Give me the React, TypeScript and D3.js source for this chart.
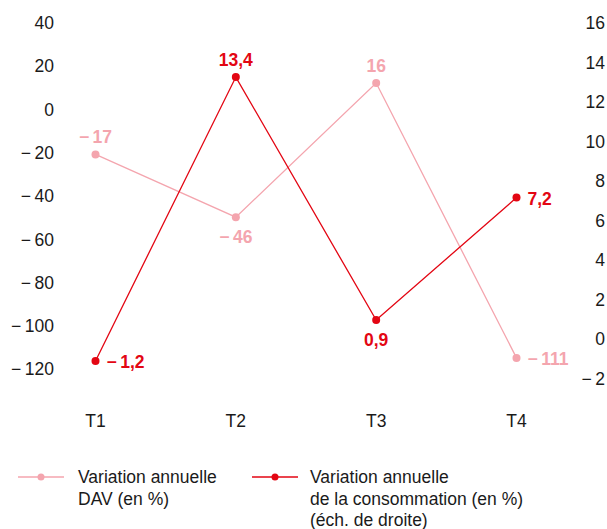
import React from "react";
import * as d3 from "d3";

const quarters = ["T1", "T2", "T3", "T4"];
const davValues = [-17, -46, 16, -111];
const davLabels = ["−\u200917", "−\u200946", "16", "−\u2009111"];
const consoValues = [-1.2, 13.4, 0.9, 7.2];
const consoLabels = ["−\u20091,2", "13,4", "0,9", "7,2"];
const leftTicks = [40, 20, 0, -20, -40, -60, -80, -100, -120];
const rightTicks = [16, 14, 12, 10, 8, 6, 4, 2, 0, -2];
const legendDav = ["Variation annuelle", "DAV (en %)"];
const legendConso = ["Variation annuelle", "de la consommation (en %)", "(éch. de droite)"];

const PINK = "#f4a5ae";
const RED = "#e30613";
const FONT = "'Liberation Sans', Arial, Helvetica, sans-serif";

// label placement: position relative to point
const davPos = ["above", "below", "above", "right"];
const consoPos = ["right", "above", "below", "right"];

const fmtTick = (v: number) => (v < 0 ? "−\u2009" + Math.abs(v) : String(v));

export default function App() {
  const W = 607;
  const H = 529;
  const FS = 17.5;
  const x = d3.scalePoint<string>().domain(quarters).range([95.5, 516.5]);
  const yL = d3.scaleLinear().domain([-120, 40]).range([377.4, 31]);
  const yR = d3.scaleLinear().domain([-2, 16]).range([376.5, 26.5]);
  const yRt = d3.scaleLinear().domain([-2, 16]).range([379, 23]);

  const line = d3.line<[number, number]>().x((d) => d[0]).y((d) => d[1]);
  const davPts: [number, number][] = davValues.map((v, i) => [x(quarters[i])!, yL(v)]);
  const consoPts: [number, number][] = consoValues.map((v, i) => [x(quarters[i])!, yR(v)]);

  const labelProps = (pos: string, px: number, py: number) => {
    if (pos === "above") return { x: px, y: py - 17, textAnchor: "middle" as const };
    if (pos === "below") return { x: px, y: py + 20, textAnchor: "middle" as const };
    return { x: px + 11, y: py + 1, textAnchor: "start" as const };
  };

  return (
    <svg
      width={W}
      height={H}
      style={{ position: "absolute", left: 0, top: 0, background: "#fff" }}
      fontFamily={FONT}
    >
      {/* left axis */}
      {leftTicks.map((t) => (
        <text key={"l" + t} x={54} y={yL(t) - 8} textAnchor="end" dominantBaseline="central" fontSize={FS} fill="#1a1a1a">
          {fmtTick(t)}
        </text>
      ))}
      {/* right axis */}
      {rightTicks.map((t) => (
        <text key={"r" + t} x={605} y={yRt(t)} textAnchor="end" dominantBaseline="central" fontSize={FS} fill="#1a1a1a">
          {fmtTick(t)}
        </text>
      ))}
      {/* x labels */}
      {quarters.map((q) => (
        <text key={q} x={x(q)!} y={421} textAnchor="middle" dominantBaseline="central" fontSize={FS} fill="#1a1a1a">
          {q}
        </text>
      ))}

      {/* DAV series */}
      <path d={line(davPts) || ""} fill="none" stroke={PINK} strokeWidth={1.3} />
      {davPts.map((p, i) => (
        <circle key={"dp" + i} cx={p[0]} cy={p[1]} r={4} fill={PINK} />
      ))}
      {davPts.map((p, i) => {
        const lp = labelProps(davPos[i], p[0], p[1]);
        return (
          <text key={"dl" + i} x={lp.x} y={lp.y} textAnchor={lp.textAnchor} dominantBaseline="central" fontSize={FS} fontWeight="bold" fill={PINK}>
            {davLabels[i]}
          </text>
        );
      })}

      {/* Consommation series */}
      <path d={line(consoPts) || ""} fill="none" stroke={RED} strokeWidth={1.3} />
      {consoPts.map((p, i) => (
        <circle key={"cp" + i} cx={p[0]} cy={p[1]} r={4} fill={RED} />
      ))}
      {consoPts.map((p, i) => {
        const lp = labelProps(consoPos[i], p[0], p[1]);
        return (
          <text key={"cl" + i} x={lp.x} y={lp.y} textAnchor={lp.textAnchor} dominantBaseline="central" fontSize={FS} fontWeight="bold" fill={RED}>
            {consoLabels[i]}
          </text>
        );
      })}

      {/* legend */}
      <g>
        <line x1={18} x2={64} y1={477} y2={477} stroke={PINK} strokeWidth={1.3} />
        <circle cx={41} cy={477} r={3.5} fill={PINK} />
        {legendDav.map((s, i) => (
          <text key={"ld" + i} x={78} y={477 + i * 22} dominantBaseline="central" fontSize={FS} fill="#1a1a1a">
            {s}
          </text>
        ))}
        <line x1={252} x2={298} y1={477} y2={477} stroke={RED} strokeWidth={1.3} />
        <circle cx={275} cy={477} r={3.5} fill={RED} />
        {legendConso.map((s, i) => (
          <text key={"lc" + i} x={310} y={477 + i * 21.5} dominantBaseline="central" fontSize={FS} fill="#1a1a1a">
            {s}
          </text>
        ))}
      </g>
    </svg>
  );
}
